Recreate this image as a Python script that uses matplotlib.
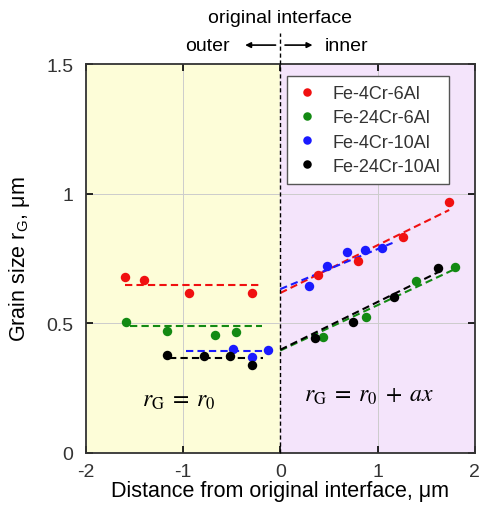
import matplotlib
matplotlib.use("Agg")
import matplotlib.pyplot as plt
import numpy as np

plt.rcParams["font.family"] = ["Liberation Sans", "DejaVu Sans"]
plt.rcParams["mathtext.fontset"] = "stix"
plt.rcParams["axes.unicode_minus"] = False

# series: (outer x, outer y), (inner x, inner y)
names = ["Fe-4Cr-6Al", "Fe-24Cr-6Al", "Fe-4Cr-10Al", "Fe-24Cr-10Al"]
colors = ["#f01010", "#138a13", "#1a1aff", "#000000"]

outer_x = [
    [-1.60, -1.40, -0.935, -0.295],
    [-1.59, -1.16, -0.668, -0.455],
    [-0.483, -0.295, -0.13],
    [-1.16, -0.78, -0.517, -0.295],
]
outer_y = [
    [0.678, 0.668, 0.617, 0.617],
    [0.506, 0.472, 0.455, 0.468],
    [0.401, 0.371, 0.397],
    [0.378, 0.373, 0.373, 0.339],
]
inner_x = [
    [0.39, 0.798, 1.264, 1.737],
    [0.435, 0.88, 1.40, 1.80],
    [0.298, 0.48, 0.685, 0.874, 1.05],
    [0.36, 0.743, 1.17, 1.627],
]
inner_y = [
    [0.688, 0.739, 0.834, 0.967],
    [0.446, 0.523, 0.665, 0.716],
    [0.645, 0.72, 0.774, 0.784, 0.789],
    [0.443, 0.504, 0.600, 0.712],
]

# fitted lines: constant outer level (x range), linear inner fit (x range, y at ends)
outer_fit_x = [(-1.60, -0.19), (-1.55, -0.19), (-0.97, -0.13), (-1.14, -0.18)]
outer_fit_y = [0.648, 0.490, 0.393, 0.368]
inner_fit_x = [(0.0, 1.737), (0.0, 1.80), (0.0, 1.154), (0.0, 1.634)]
inner_fit_y = [(0.617, 0.937), (0.395, 0.710), (0.632, 0.810), (0.398, 0.699)]

fig = plt.figure(figsize=(4.82, 5.06), dpi=100)
ax = fig.add_axes([0.178, 0.1028, 0.807, 0.7687])

ax.axvspan(-2, 0, color="#fdfdd8", zorder=0)
ax.axvspan(0, 2, color="#f4e4fb", zorder=0)

for gx in [-1, 1]:
    ax.axvline(gx, color="#cccccc", lw=0.7, zorder=1)
for gy in [0.5, 1.0]:
    ax.axhline(gy, color="#cccccc", lw=0.7, zorder=1)

for i in range(4):
    ax.plot(outer_fit_x[i], [outer_fit_y[i]] * 2, "--", color=colors[i], lw=1.5, zorder=3,
            dashes=(3.5, 2))
    ax.plot(inner_fit_x[i], inner_fit_y[i], "--", color=colors[i], lw=1.5, zorder=3,
            dashes=(3.5, 2))
    ax.plot(outer_x[i], outer_y[i], "o", color=colors[i], ms=6.8, mec="none", zorder=4)
    ax.plot(inner_x[i], inner_y[i], "o", color=colors[i], ms=6.8, mec="none", zorder=4,
            label=names[i])

# interface line extending above the axes
ax.plot([0, 0], [0, 1.62], "--", color="black", lw=1.0, clip_on=False, zorder=5,
        dashes=(3, 2))

ax.set_xlim(-2, 2)
ax.set_ylim(0, 1.5)
ax.set_xticks([-2, -1, 0, 1, 2])
ax.set_yticks([0, 0.5, 1, 1.5])
ax.set_yticklabels(["0", "0.5", "1", "1.5"])
ax.tick_params(direction="in", top=True, right=True, labelsize=14, length=5,
               width=1.2, labelcolor="#333333")
ax.tick_params(axis="y", pad=9)
ax.tick_params(axis="x", pad=7)
for s in ax.spines.values():
    s.set_linewidth(1.3)
    s.set_color("#333333")

ax.set_xlabel("Distance from original interface, μm", fontsize=15.5, labelpad=0)
ax.set_ylabel("Grain size r$_\\mathregular{G}$, μm", fontsize=15.5, labelpad=10)

ax.text(-1.04, 0.205, r"$r_{\mathrm{G}}\;=\;r_0$", fontsize=17, ha="center", va="center")
ax.text(0.91, 0.225, r"$r_{\mathrm{G}}\;=\;r_0\;+\;ax$", fontsize=17, ha="center",
        va="center")

ax.text(0, 1.68, "original interface", fontsize=14, ha="center", va="center",
        clip_on=False)
ax.annotate("", xy=(-0.39, 1.573), xytext=(-0.02, 1.573), xycoords="data",
            arrowprops=dict(arrowstyle="-|>", color="black", lw=1.2,
                            mutation_scale=8), annotation_clip=False)
ax.annotate("", xy=(0.36, 1.573), xytext=(0.02, 1.573), xycoords="data",
            arrowprops=dict(arrowstyle="-|>", color="black", lw=1.2,
                            mutation_scale=8), annotation_clip=False)
ax.text(-0.52, 1.573, "outer", fontsize=14, ha="right", va="center", clip_on=False)
ax.text(0.46, 1.573, "inner", fontsize=14, ha="left", va="center", clip_on=False)

leg = ax.legend(loc="upper left", bbox_to_anchor=(0.517, 0.969), fontsize=13,
                frameon=True, fancybox=False, handletextpad=0.8, borderpad=0.5,
                labelspacing=0.4, handlelength=1.2, labelcolor="#333333",
                borderaxespad=0, markerscale=0.9, framealpha=1)
leg.get_frame().set_edgecolor("#555555")
leg.get_frame().set_linewidth(1.0)

fig.savefig("out.png", dpi=100)
